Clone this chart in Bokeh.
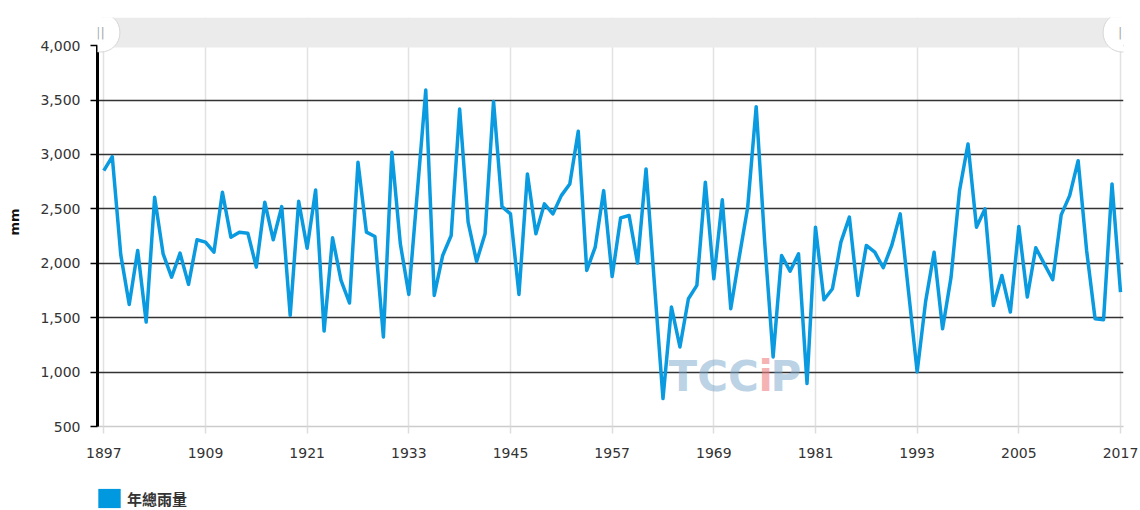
from bokeh.plotting import figure
from bokeh.layouts import column
from bokeh.models import (ColumnDataSource, FixedTicker, NumeralTickFormatter, Range1d,
                          BoxAnnotation, Label, Legend, LegendItem)
from bokeh.embed import file_html
from bokeh.resources import INLINE

# ---------------- data ----------------
years = list(range(1897, 2018))
rainfall = [
    2852, 2980, 2080, 1622, 2118, 1460, 2607, 2087, 1873, 2093,   # 1897-1906
    1806, 2216, 2194, 2102, 2653, 2240, 2286, 2277, 1965, 2561,   # 1907-1916
    2216, 2521, 1522, 2570, 2139, 2674, 1378, 2234, 1843, 1635,   # 1917-1926
    2928, 2286, 2246, 1323, 3020, 2179, 1714, 2650, 3592, 1705,   # 1927-1936
    2072, 2255, 3417, 2378, 2017, 2271, 3488, 2521, 2454, 1714,   # 1937-1946
    2821, 2271, 2546, 2454, 2622, 2729, 3213, 1934, 2148, 2668,   # 1947-1956
    1879, 2417, 2439, 2002, 2867, 1800, 757, 1598, 1231, 1674,    # 1957-1966
    1797, 2745, 1858, 2583, 1583, 2057, 2515, 3439, 2200, 1139,   # 1967-1976
    2072, 1928, 2087, 895, 2332, 1665, 1766, 2194, 2424, 1705,    # 1977-1986
    2164, 2102, 1959, 2164, 2454, 1726, 1002, 1650, 2102, 1399,   # 1987-1996
    1873, 2668, 3096, 2332, 2500, 1613, 1888, 1552, 2338, 1690,   # 1997-2006
    2142, 1995, 1849, 2445, 2622, 2943, 2118, 1491, 1482, 2729,   # 2007-2016
    1736,                                                         # 2017
]
x_ticks = [1897, 1909, 1921, 1933, 1945, 1957, 1969, 1981, 1993, 2005, 2017]
y_ticks = [500, 1000, 1500, 2000, 2500, 3000, 3500, 4000]
series_name = "年總雨量"
y_title = "mm"

LINE_COLOR = "#0a9ae0"
FONT = "DejaVu Sans"

src = ColumnDataSource(dict(year=years, rain=rainfall))

p = figure(width=1140, height=486, output_backend="svg", toolbar_location=None,
           x_range=Range1d(1896.256, 2017.354), y_range=Range1d(500, 4259),
           min_border_left=97, min_border_right=17, min_border_top=17, min_border_bottom=60)
p.outline_line_color = None
p.background_fill_color = "white"
p.border_fill_color = "white"

# grids
p.xgrid.ticker = FixedTicker(ticks=x_ticks)
p.xgrid.grid_line_color = "#e2e2e2"
p.xgrid.grid_line_width = 1.5
p.ygrid.ticker = FixedTicker(ticks=y_ticks[1:])
p.ygrid.grid_line_color = "#333333"
p.ygrid.grid_line_width = 1.5

# x axis
xa = p.xaxis[0]
xa.ticker = FixedTicker(ticks=x_ticks)
xa.axis_line_color = "#cccccc"
xa.axis_line_width = 1.5
xa.major_tick_line_color = "#dddddd"
xa.major_tick_line_width = 1.5
xa.major_tick_out = 7
xa.major_tick_in = 0
xa.minor_tick_line_color = None
xa.major_label_text_font = FONT
xa.major_label_text_font_size = "14px"
xa.major_label_text_color = "#333333"
xa.major_label_standoff = 14

# y axis
ya = p.yaxis[0]
ya.ticker = FixedTicker(ticks=y_ticks)
ya.bounds = (y_ticks[0], y_ticks[-1])
ya.formatter = NumeralTickFormatter(format="0,0")
ya.axis_line_color = "black"
ya.axis_line_width = 3
ya.major_tick_line_color = "black"
ya.major_tick_line_width = 1.5
ya.major_tick_out = 7
ya.major_tick_in = 0
ya.minor_tick_line_color = None
ya.major_label_text_font = FONT
ya.major_label_text_font_size = "14px"
ya.major_label_text_color = "#333333"
ya.major_label_standoff = 10
ya.axis_label = y_title
ya.axis_label_text_font = FONT
ya.axis_label_text_font_size = "13px"
ya.axis_label_text_font_style = "bold"
ya.axis_label_text_color = "#111111"
ya.axis_label_standoff = 15

# watermark logo
for txt, sx, col, alpha in (("TCC", 571, "#7aa6cc", 0.5), ("i", 661, "#f08080", 0.6), ("P", 673, "#7aa6cc", 0.5)):
    p.add_layout(Label(x=sx, y=50, x_units="screen", y_units="screen", text=txt,
                       text_font=FONT, text_font_size="42px", text_font_style="bold",
                       text_color=col, text_alpha=alpha, text_baseline="alphabetic",
                       level="underlay"))

# data line
line = p.line("year", "rain", source=src, line_color=LINE_COLOR, line_width=3.5,
              line_join="round")

# scrollbar on top
bar = BoxAnnotation(left=3, right=1023, bottom=379, top=409,
                    left_units="screen", right_units="screen",
                    top_units="screen", bottom_units="screen",
                    fill_color="#ebebeb", fill_alpha=1, line_color=None)
p.add_layout(bar)
for sx in (3, 1025):
    p.add_layout(Label(x=sx, y=394, x_units="screen", y_units="screen", text="||",
                       text_align="center", text_baseline="middle", text_color="#aaaaaa",
                       text_font_size="13px", text_font=FONT,
                       background_fill_color="white", border_line_color="#d6d6d6",
                       border_line_width=1, border_radius=19, padding=(15, 12)))

# ---------------- legend strip (separate small figure below) ----------------
lg = figure(width=1140, height=24, output_backend="svg", toolbar_location=None,
            x_range=Range1d(1896.256, 2017.354), y_range=Range1d(500, 4259),
            min_border_left=0, min_border_right=0, min_border_top=0, min_border_bottom=0)
lg.axis.visible = False
lg.grid.visible = False
lg.outline_line_color = None
lg.background_fill_color = "white"
lg.border_fill_color = "white"
# zero-width bars: invisible in the strip, but give the legend its filled square
swatch = lg.vbar(x="year", top="rain", width=0, source=src,
                 fill_color="#0099e0", line_color=None)
legend = Legend(items=[LegendItem(label=series_name, renderers=[swatch])],
                location=(-2, 0), glyph_width=28, glyph_height=24, padding=0, margin=0,
                spacing=0, label_standoff=4, border_line_color=None,
                background_fill_alpha=0, label_text_font="Noto Sans CJK TC",
                label_text_font_size="15px", label_text_font_style="bold",
                label_text_color="#333333")
lg.add_layout(legend)

layout = column(p, lg, spacing=0)
open("out.html", "w").write(file_html(layout, INLINE))
